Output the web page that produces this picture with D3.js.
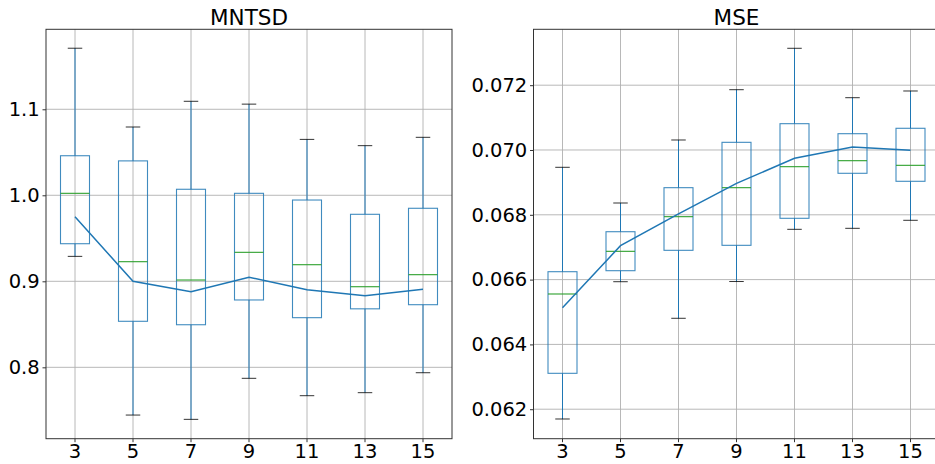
<!DOCTYPE html>
<html>
<head>
<meta charset="utf-8">
<script src="https://cdn.jsdelivr.net/npm/d3@7"></script>
<style>
  html, body { margin: 0; padding: 0; background: #fff; }
  svg { display: block; }
  text { font-family: "DejaVu Sans", sans-serif; fill: #000; }
</style>
</head>
<body>
<svg id="chart" width="935" height="464"></svg>
<script>
// Window sizes on the x axis
const categories = ["3", "5", "7", "9", "11", "13", "15"];

// MNTSD distribution per window size
const mntsdLow    = [0.929, 0.7445, 0.7395, 0.7872, 0.767, 0.7705, 0.7937];
const mntsdQ1     = [0.9437, 0.8535, 0.8495, 0.8783, 0.8577, 0.868, 0.8728];
const mntsdMedian = [1.0023, 0.9228, 0.9015, 0.9337, 0.9193, 0.8937, 0.9077];
const mntsdQ3     = [1.046, 1.040, 1.007, 1.0023, 0.9945, 0.9779, 0.9849];
const mntsdHigh   = [1.171, 1.0794, 1.1093, 1.106, 1.065, 1.0577, 1.0674];
const mntsdMean   = [0.975, 0.900, 0.888, 0.9047, 0.8902, 0.8833, 0.8907];
const mntsdTicks  = [0.8, 0.9, 1.0, 1.1];

// MSE distribution per window size
const mseLow    = [0.061698, 0.065935, 0.064806, 0.065941, 0.067552, 0.067583, 0.067830];
const mseQ1     = [0.063108, 0.066275, 0.066904, 0.067058, 0.067892, 0.069281, 0.069034];
const mseMedian = [0.065556, 0.066873, 0.067942, 0.068837, 0.069485, 0.069670, 0.069527];
const mseQ3     = [0.066244, 0.067478, 0.068837, 0.070237, 0.070812, 0.070503, 0.070670];
const mseHigh   = [0.069466, 0.068364, 0.070309, 0.071861, 0.073139, 0.071614, 0.071821];
const mseMean   = [0.065133, 0.067046, 0.068030, 0.068972, 0.069744, 0.070093, 0.069990];
const mseTicks  = [0.062, 0.064, 0.066, 0.068, 0.070, 0.072];

const C_BOX = "#1f77b4", C_MED = "#2ca02c", C_CAP = "#000", C_GRID = "#b0b0b0";
const TICK_FONT = 19.5, TITLE_FONT = 21.5;

const svg = d3.select("#chart");

function panel(opts) {
  const { left, right, top, bottom, yDomain, ticks, fmt, title,
          low, q1, med, q3, high, mean } = opts;
  const g = svg.append("g");

  const x = d3.scaleBand().domain(categories).range([left, right]).padding(0);
  const cx = c => x(c) + x.bandwidth() / 2;
  const y = d3.scaleLinear().domain(yDomain).range([bottom, top]);
  const boxW = x.bandwidth() * 0.5;
  const capW = boxW * 0.5;

  const rows = categories.map((c, i) => ({
    c, low: low[i], q1: q1[i], med: med[i], q3: q3[i], high: high[i], mean: mean[i]
  }));

  // grid
  const grid = g.append("g").attr("stroke", C_GRID).attr("stroke-width", 0.9);
  grid.selectAll("line.gx").data(categories).join("line")
    .attr("x1", d => cx(d)).attr("x2", d => cx(d))
    .attr("y1", top).attr("y2", bottom);
  grid.selectAll("line.gy").data(ticks).join("line")
    .attr("x1", left).attr("x2", right)
    .attr("y1", d => y(d)).attr("y2", d => y(d));

  // boxes, whiskers, medians and caps
  const b = g.append("g").attr("fill", "none");
  b.selectAll("line.wl").data(rows).join("line")
    .attr("stroke", C_BOX).attr("stroke-width", 1)
    .attr("x1", d => cx(d.c)).attr("x2", d => cx(d.c))
    .attr("y1", d => y(d.low)).attr("y2", d => y(d.q1));
  b.selectAll("line.wh").data(rows).join("line")
    .attr("stroke", C_BOX).attr("stroke-width", 1)
    .attr("x1", d => cx(d.c)).attr("x2", d => cx(d.c))
    .attr("y1", d => y(d.high)).attr("y2", d => y(d.q3));
  b.selectAll("rect").data(rows).join("rect")
    .attr("stroke", C_BOX).attr("stroke-width", 1.1).attr("stroke-opacity", 0.85)
    .attr("x", d => cx(d.c) - boxW / 2).attr("width", boxW)
    .attr("y", d => y(d.q3)).attr("height", d => y(d.q1) - y(d.q3));
  b.selectAll("line.med").data(rows).join("line")
    .attr("stroke", C_MED).attr("stroke-width", 1.1)
    .attr("x1", d => cx(d.c) - boxW / 2).attr("x2", d => cx(d.c) + boxW / 2)
    .attr("y1", d => y(d.med)).attr("y2", d => y(d.med));
  ["low", "high"].forEach(k => {
    b.selectAll("line.cap-" + k).data(rows).join("line")
      .attr("stroke", C_CAP).attr("stroke-width", 1).attr("stroke-opacity", 0.8)
      .attr("x1", d => cx(d.c) - capW / 2).attr("x2", d => cx(d.c) + capW / 2)
      .attr("y1", d => y(d[k])).attr("y2", d => y(d[k]));
  });

  // mean line across window sizes
  g.append("path").datum(rows)
    .attr("fill", "none").attr("stroke", C_BOX).attr("stroke-width", 1.5)
    .attr("d", d3.line().x(d => cx(d.c)).y(d => y(d.mean)));

  // frame
  g.append("rect").attr("x", left).attr("y", top)
    .attr("width", right - left).attr("height", bottom - top)
    .attr("fill", "none").attr("stroke", "#333").attr("stroke-width", 1);

  // axes
  const ax = g.append("g").attr("transform", `translate(0,${bottom})`)
    .call(d3.axisBottom(x).tickSize(3.5).tickPadding(2));
  const ay = g.append("g").attr("transform", `translate(${left},0)`)
    .call(d3.axisLeft(y).tickValues(ticks).tickFormat(d3.format(fmt)).tickSize(3.5).tickPadding(2.8));
  [ax, ay].forEach(a => {
    a.attr("font-size", TICK_FONT).attr("font-family", "DejaVu Sans, sans-serif");
    a.select(".domain").remove();
    a.selectAll(".tick line").attr("stroke", "#333").attr("stroke-width", 1);
    a.selectAll(".tick text").attr("font-size", TICK_FONT).attr("fill", "#000");
  });

  g.append("text").attr("x", (left + right) / 2).attr("y", top - 4.5)
    .attr("text-anchor", "middle").attr("font-size", TITLE_FONT).text(title);
}

panel({
  left: 46, right: 452, top: 29.3, bottom: 438.7,
  yDomain: [0.717, 1.193], ticks: mntsdTicks, fmt: ".1f", title: "MNTSD",
  low: mntsdLow, q1: mntsdQ1, med: mntsdMedian, q3: mntsdQ3, high: mntsdHigh, mean: mntsdMean
});
panel({
  left: 533.5, right: 939.5, top: 29.3, bottom: 438.7,
  yDomain: [0.06109, 0.073725], ticks: mseTicks, fmt: ".3f", title: "MSE",
  low: mseLow, q1: mseQ1, med: mseMedian, q3: mseQ3, high: mseHigh, mean: mseMean
});
</script>
</body>
</html>
